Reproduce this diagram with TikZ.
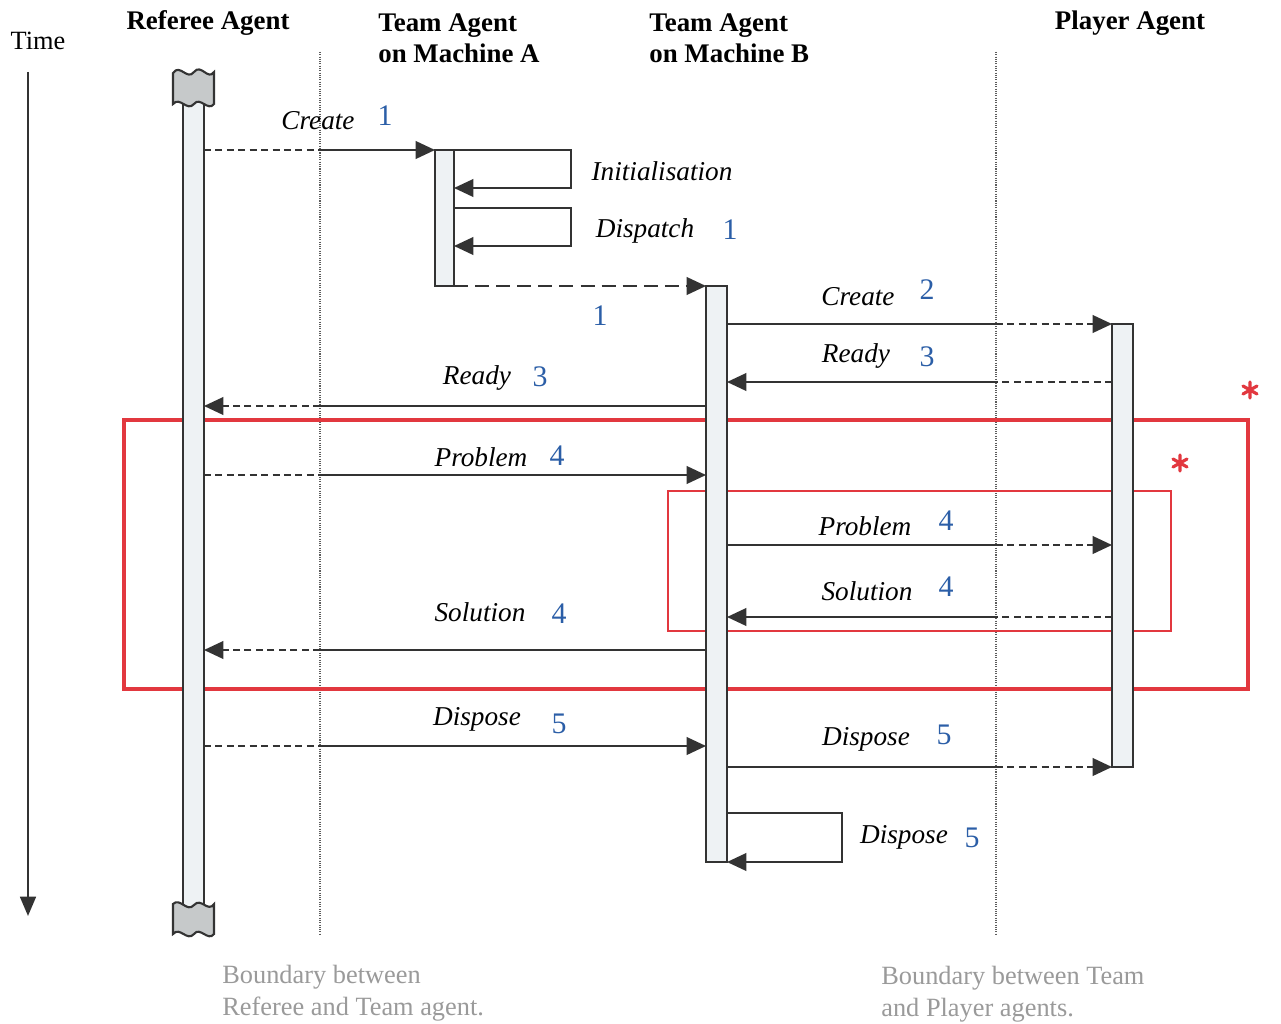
\documentclass[tikz,border=0pt]{standalone}
\usepackage{fontspec}
\setmainfont{Liberation Serif}
\usetikzlibrary{arrows.meta}
\definecolor{ink}{HTML}{333333}
\definecolor{redbox}{HTML}{E2383F}
\definecolor{numblue}{HTML}{2B5EA7}
\definecolor{barfill}{HTML}{EEF2F4}
\definecolor{capfill}{HTML}{C6C9CA}
\definecolor{bndtext}{HTML}{9A9A9A}
\begin{document}
\begin{tikzpicture}[x=0.02cm,y=-0.02cm,
  msg/.style={draw=ink, line width=1.2pt},
  msgd/.style={msg, dash pattern=on 4pt off 2.5pt},
  msglong/.style={msg, dash pattern=on 8pt off 4pt},
  tip/.style={-{Triangle[length=11pt,width=10pt]}},
  bar/.style={draw=ink, fill=barfill, line width=1.2pt},
  lifecap/.style={draw=ink, fill=capfill, line width=1.2pt},
  bnd/.style={draw=ink!80, line width=0.7pt, dash pattern=on 0.6pt off 0.7pt},
  lbl/.style={font=\fontsize{15.5}{18}\selectfont\itshape, inner sep=0pt},
  num/.style={font=\fontsize{17}{19}\selectfont, text=numblue, inner sep=0pt},
  head/.style={font=\fontsize{15.3}{17.6}\selectfont\bfseries, align=left, inner sep=0pt},
  bndlbl/.style={font=\fontsize{15}{18.2}\selectfont, text=bndtext, align=left, inner sep=0pt},
  star/.style={draw=redbox, line width=1.8pt, line cap=round}
]
\useasboundingbox (0,0) rectangle (1281,1024);
\fill[white] (0,0) rectangle (1281,1024);

% headings
\node[font=\fontsize{15}{18}\selectfont, inner sep=0pt] (time) at (38,41) {Time};
\node[head] (hRef) at (208,23) {Referee Agent};
\node[head, anchor=west] (hTA) at (378,38) {Team Agent\\on Machine A};
\node[head, anchor=west] (hTB) at (649,38) {Team Agent\\on Machine B};
\node[head] (hPl) at (1130,23) {Player Agent};

% time axis
\coordinate (t0) at (28,72);
\coordinate (t1) at (28,916);
\draw[draw=ink, line width=1.3pt, -{Triangle[length=11pt,width=9pt]}] (t0) -- (t1);

% boundaries
\coordinate (bAtop) at (320,52);
\coordinate (bAbot) at (320,935);
\coordinate (bBtop) at (996,52);
\coordinate (bBbot) at (996,935);
\draw[bnd] (bAtop) -- (bAbot);
\draw[bnd] (bBtop) -- (bBbot);

% interaction frames
\draw[redbox, line width=2.4pt] (124,420) rectangle (1248,689);
\draw[redbox, line width=1.2pt] (668,491) rectangle (1171,631);
\draw[star] (1250,382) -- (1250,398) (1243,386) -- (1257,394) (1243,394) -- (1257,386);
\draw[star] (1180,455) -- (1180,471) (1173,459) -- (1187,467) (1173,467) -- (1187,459);

% lifelines / activation bars
\draw[bar] (183,100) rectangle (204,910);
\draw[bar] (435,150) rectangle (454,286);
\draw[bar] (706,286) rectangle (727,862);
\draw[bar] (1112,324) rectangle (1133,767);

% referee lifeline caps
\draw[lifecap] (173,73) .. controls (180,63) and (187,81) .. (194,72)
  .. controls (201,63) and (208,81) .. (214,72) -- (214,104)
  .. controls (208,112) and (200,96) .. (194,104)
  .. controls (187,112) and (180,96) .. (173,104) -- cycle;
\draw[lifecap] (173,904) .. controls (180,897) and (187,913) .. (194,905)
  .. controls (201,897) and (208,913) .. (214,904) -- (214,934)
  .. controls (208,942) and (200,926) .. (194,934)
  .. controls (187,942) and (180,926) .. (173,934) -- cycle;

% message end points
\coordinate (rC) at (204,150);   \coordinate (aC) at (435,150);
\coordinate (aD) at (454,286);   \coordinate (bD) at (706,286);
\coordinate (bC) at (727,324);   \coordinate (pC) at (1112,324);
\coordinate (pR) at (1112,382);  \coordinate (bR) at (727,382);
\coordinate (bR2) at (706,406);  \coordinate (rR) at (204,406);
\coordinate (rP) at (204,475);   \coordinate (bP) at (706,475);
\coordinate (bP2) at (727,545);  \coordinate (pP) at (1112,545);
\coordinate (pS) at (1112,617);  \coordinate (bS) at (727,617);
\coordinate (bS2) at (706,650);  \coordinate (rS) at (204,650);
\coordinate (rX) at (204,746);   \coordinate (bX) at (706,746);
\coordinate (bX2) at (727,767);  \coordinate (pX) at (1112,767);

% referee -> team agent A : create
\draw[msgd] (rC) -- (rC -| bAtop);
\draw[msg, tip] (rC -| bAtop) -- (aC);
% team agent A self calls
\draw[msg, tip] (454,150) -- (571,150) -- (571,188) -- (454,188);
\draw[msg, tip] (454,208) -- (571,208) -- (571,246) -- (454,246);
% team agent A -> team agent B
\draw[msglong, tip] (aD) -- (bD);
% team agent B -> player : create
\draw[msg] (bC) -- (bC -| bBtop);
\draw[msgd, tip] (bC -| bBtop) -- (pC);
% player -> team agent B : ready
\draw[msgd] (pR) -- (pR -| bBtop);
\draw[msg, tip] (pR -| bBtop) -- (bR);
% team agent B -> referee : ready
\draw[msg] (bR2) -- (bR2 -| bAtop);
\draw[msgd, tip] (bR2 -| bAtop) -- (rR);
% referee -> team agent B : problem
\draw[msgd] (rP) -- (rP -| bAtop);
\draw[msg, tip] (rP -| bAtop) -- (bP);
% team agent B -> player : problem
\draw[msg] (bP2) -- (bP2 -| bBtop);
\draw[msgd, tip] (bP2 -| bBtop) -- (pP);
% player -> team agent B : solution
\draw[msgd] (pS) -- (pS -| bBtop);
\draw[msg, tip] (pS -| bBtop) -- (bS);
% team agent B -> referee : solution
\draw[msg] (bS2) -- (bS2 -| bAtop);
\draw[msgd, tip] (bS2 -| bAtop) -- (rS);
% referee -> team agent B : dispose
\draw[msgd] (rX) -- (rX -| bAtop);
\draw[msg, tip] (rX -| bAtop) -- (bX);
% team agent B -> player : dispose
\draw[msg] (bX2) -- (bX2 -| bBtop);
\draw[msgd, tip] (bX2 -| bBtop) -- (pX);
% team agent B self dispose
\draw[msg, tip] (727,813) -- (842,813) -- (842,862) -- (727,862);

% message labels
\node[lbl] (lC1) at (318,121) {Create};       \node[num] (nC1) at (385,116) {1};
\node[lbl] (lIn) at (662,171) {Initialisation};
\node[lbl] (lDi) at (645,231) {Dispatch};     \node[num] (nDi) at (730,230) {1};
\node[num] (nAB) at (600,316) {1};
\node[lbl] (lC2) at (858,297) {Create};       \node[num] (nC2) at (927,290) {2};
\node[lbl] (lR1) at (856,356) {Ready};        \node[num] (nR1) at (927,357) {3};
\node[lbl] (lR2) at (477,378) {Ready};        \node[num] (nR2) at (540,377) {3};
\node[lbl] (lP1) at (481,457) {Problem};      \node[num] (nP1) at (557,456) {4};
\node[lbl] (lP2) at (865,526) {Problem};      \node[num] (nP2) at (946,521) {4};
\node[lbl] (lS2) at (867,591) {Solution};     \node[num] (nS2) at (946,587) {4};
\node[lbl] (lS1) at (480,612) {Solution};     \node[num] (nS1) at (559,614) {4};
\node[lbl] (lX1) at (477,719) {Dispose};      \node[num] (nX1) at (559,724) {5};
\node[lbl] (lX2) at (866,739) {Dispose};      \node[num] (nX2) at (944,735) {5};
\node[lbl] (lX3) at (904,837) {Dispose};      \node[num] (nX3) at (972,838) {5};

% boundary captions
\node[bndlbl, anchor=west] (bcA) at (222,993) {Boundary between\\Referee and Team agent.};
\node[bndlbl, anchor=west] (bcB) at (881,994) {Boundary between Team\\and Player agents.};
\end{tikzpicture}
\end{document}
